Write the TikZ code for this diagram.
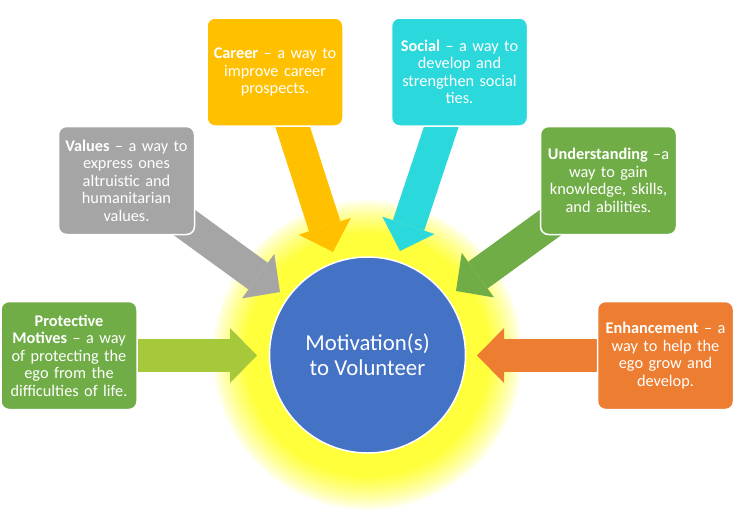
\documentclass[tikz,border=0pt]{standalone}
\usepackage{fontspec}
\setmainfont{Carlito}
\usetikzlibrary{arrows.meta}
\definecolor{cgreen}{HTML}{70AD47}
\definecolor{cgray}{HTML}{A5A5A5}
\definecolor{corange}{HTML}{ED7D31}
\definecolor{cgold}{HTML}{FFC000}
\definecolor{ccyan}{HTML}{2BD9DD}
\definecolor{clime}{HTML}{A6C83B}
\definecolor{hubblue}{HTML}{4472C4}
\definecolor{glowyellow}{HTML}{FFFF3C}
\pgfdeclarelayer{glowlayer}
\pgfdeclarelayer{arrowlayer}
\pgfsetlayers{glowlayer,arrowlayer,main}
\tikzset{
  box/.style={fill=#1, draw=white, line width=1.5pt, rounded corners=8pt,
    minimum width=136pt, minimum height=108pt, text width=134pt, align=center,
    text=white, inner sep=0pt, font=\fontsize{16.3}{17.5}\selectfont},
  hub/.style={circle, fill=hubblue, draw=white, line width=1.5pt, minimum size=196pt,
    inner sep=0pt, align=center, text=white, font=\fontsize{22.8}{25}\selectfont},
  blockarrow/.style={draw=#1, line width=33pt,
    -{Triangle[length=27pt, width=55pt, line width=0pt]}}
}
\begin{document}
\begin{tikzpicture}[x=1pt,y=-1pt]
\useasboundingbox (0,0) rectangle (737,520);
\node[box=cgreen] (prot) at (69,355.5) {\textbf{Protective}\\\textbf{Motives} – a way\\of protecting the\\ego from the\\difficulties of life.};
\node[box=cgray] (vals) at (126.5,180.5) {\textbf{Values} – a way to\\express ones\\altruistic and\\humanitarian\\values.};
\node[box=cgold] (career) at (275,72) {\textbf{Career} – a way to\\improve career\\prospects.};
\node[box=ccyan] (social) at (459.5,72) {\textbf{Social} – a way to\\develop and\\strengthen social\\ties.};
\node[box=cgreen] (under) at (608.5,180.5) {\textbf{Understanding} –a\\way to gain\\knowledge, skills,\\and abilities.};
\node[box=corange] (enh) at (665.5,355.5) {\textbf{Enhancement} – a\\way to help the\\ego grow and\\develop.};
\node[hub] (hub) at (367.5,355) {Motivation(s)\\to Volunteer};
\coordinate (tipP) at (257,355.5);
\coordinate (tipV) at (280,292);
\coordinate (tipC) at (333,252);
\coordinate (tipS) at (400,251);
\coordinate (tipU) at (456,291);
\coordinate (tipE) at (477,355.5);
\begin{pgfonlayer}{arrowlayer}
\draw[blockarrow=clime] (prot.center) -- (tipP);
\draw[blockarrow=cgray] (vals.center) -- (tipV);
\draw[blockarrow=cgold] (career.center) -- (tipC);
\draw[blockarrow=ccyan] (social.center) -- (tipS);
\draw[blockarrow=cgreen] (under.center) -- (tipU);
\draw[blockarrow=corange] (enh.center) -- (tipE);
\end{pgfonlayer}
\begin{pgfonlayer}{glowlayer}
\foreach \i in {0,...,34} {
  \pgfmathtruncatemacro{\pct}{100*(\i/34)^0.8}
  \fill[glowyellow!\pct!white] (hub.center) circle[radius=156-\i];
}
\end{pgfonlayer}
\end{tikzpicture}
\end{document}
